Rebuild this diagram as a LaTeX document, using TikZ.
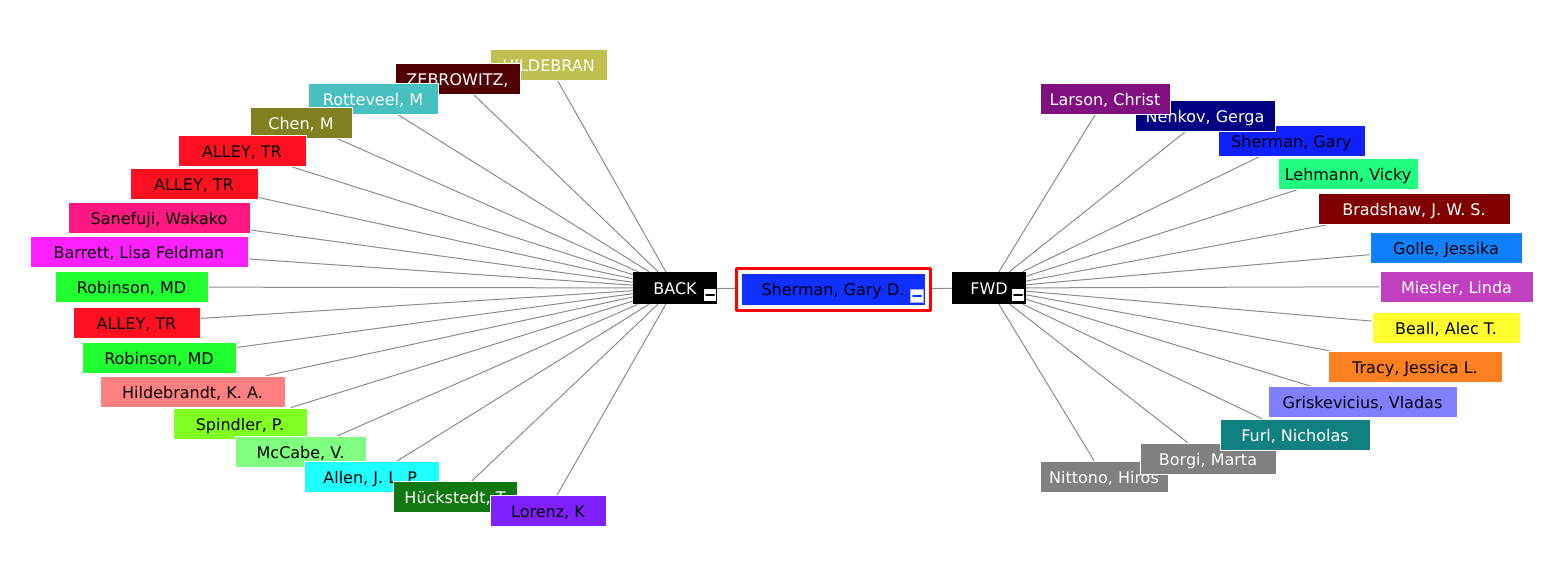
\documentclass[tikz,border=0pt]{standalone}
\usepackage{fontspec}
\setmainfont{DejaVu Sans}
\usetikzlibrary{backgrounds}
\definecolor{linkgray}{HTML}{8C8C8C}
\definecolor{cCore}{HTML}{1030FF}
\begin{document}
\begin{tikzpicture}[x=1pt,y=-1pt,font=\fontsize{16}{16}\selectfont,line join=round,line cap=round,
    person/.style={rectangle,draw=white,line width=0.6pt,inner sep=0pt,minimum height=31pt,text height=13pt,text depth=0pt,text=black},
    hub/.style={rectangle,fill=black,text=white,inner sep=0pt,minimum height=32pt,text height=13pt,text depth=0pt},
    minusbox/.style={rectangle,fill=white,draw=black,line width=0.8pt,minimum size=13pt,inner sep=0pt,
        path picture={\draw[line width=2pt,#1] ([xshift=-4pt]path picture bounding box.center) -- ([xshift=4pt]path picture bounding box.center);}},
    minusbox/.default=black,
    link/.style={draw=linkgray,line width=1pt}]
    \useasboundingbox (0,0) rectangle (1560,574);
    % centre
    \node[hub,minimum width=84pt] (back) at (675,288) {BACK};
    \node[rectangle,fill=cCore,draw=white,line width=1pt,minimum width=184pt,minimum height=32pt,outer sep=5pt,text height=13pt,text depth=0pt] (core) at (833,289) {Sherman, Gary D.};
    \draw[red,line width=3pt] (core.north west) rectangle (core.south east);
    \node[hub,minimum width=74pt] (fwd) at (989,288) {FWD};
    \node[minusbox] (backminus) at (710,295) {};
    \node[minusbox=cCore,draw=cCore!40!white] (coreminus) at (917,296) {};
    \node[minusbox] (fwdminus) at (1018,295) {};
    % back
    \node[person,fill={rgb,255:red,192;green,192;blue,80},text=white,minimum width=117pt] (b1) at (548.5,64.5) {HILDEBRAN};
    \node[person,fill={rgb,255:red,80;green,0;blue,0},text=white,minimum width=125pt] (b2) at (457.5,79) {ZEBROWITZ,};
    \node[person,fill={rgb,255:red,72;green,192;blue,192},text=white,minimum width=130pt] (b3) at (373,99) {Rotteveel, M};
    \node[person,fill={rgb,255:red,128;green,128;blue,32},text=white,minimum width=102pt] (b4) at (301,122.5) {Chen, M};
    \node[person,fill={rgb,255:red,255;green,16;blue,32},minimum width=128pt] (b5) at (242,151) {ALLEY, TR};
    \node[person,fill={rgb,255:red,255;green,16;blue,32},minimum width=128pt] (b6) at (194,183.5) {ALLEY, TR};
    \node[person,fill={rgb,255:red,255;green,24;blue,128},minimum width=182pt] (b7) at (159,217.5) {Sanefuji, Wakako};
    \node[person,fill={rgb,255:red,255;green,32;blue,255},minimum width=218pt] (b8) at (139,251.5) {Barrett, Lisa Feldman};
    \node[person,fill={rgb,255:red,32;green,255;blue,48},minimum width=153pt] (b9) at (131.5,287) {Robinson, MD};
    \node[person,fill={rgb,255:red,255;green,16;blue,32},minimum width=127pt] (b10) at (136.5,322.5) {ALLEY, TR};
    \node[person,fill={rgb,255:red,32;green,255;blue,48},minimum width=154pt] (b11) at (159,358) {Robinson, MD};
    \node[person,fill={rgb,255:red,255;green,128;blue,128},minimum width=185pt] (b12) at (192.5,391.5) {Hildebrandt, K. A.};
    \node[person,fill={rgb,255:red,128;green,255;blue,32},minimum width=134pt] (b13) at (240,423.5) {Spindler, P.};
    \node[person,fill={rgb,255:red,128;green,255;blue,128},minimum width=131pt] (b14) at (300.5,452) {McCabe, V.};
    \node[person,fill={rgb,255:red,32;green,255;blue,255},minimum width=135pt] (b15) at (371.5,477) {Allen, J. L. P.};
    \node[person,fill={rgb,255:red,16;green,120;blue,16},text=white,minimum width=124pt] (b16) at (455,497) {Hückstedt, T};
    \node[person,fill={rgb,255:red,128;green,32;blue,255},minimum width=116pt] (b17) at (548,511) {Lorenz, K};
    % fwd
    \node[person,fill={rgb,255:red,128;green,128;blue,128},text=white,minimum width=128pt] (f13) at (1104,477) {Nittono, Hiros};
    \node[person,fill={rgb,255:red,128;green,128;blue,128},text=white,minimum width=136pt] (f12) at (1208,458.5) {Borgi, Marta};
    \node[person,fill={rgb,255:red,16;green,128;blue,128},text=white,minimum width=150pt] (f11) at (1295,434.5) {Furl, Nicholas};
    \node[person,fill={rgb,255:red,128;green,128;blue,255},minimum width=189pt] (f10) at (1362.5,402) {Griskevicius, Vladas};
    \node[person,fill={rgb,255:red,255;green,128;blue,32},minimum width=174pt] (f9) at (1415,366.5) {Tracy, Jessica L.};
    \node[person,fill={rgb,255:red,255;green,255;blue,48},minimum width=148pt] (f8) at (1446,327.5) {Beall, Alec T.};
    \node[person,fill={rgb,255:red,192;green,64;blue,192},text=white,minimum width=153pt] (f7) at (1456.5,286.5) {Miesler, Linda};
    \node[person,fill={rgb,255:red,16;green,128;blue,255},minimum width=152pt] (f6) at (1446,248) {Golle, Jessika};
    \node[person,fill={rgb,255:red,128;green,0;blue,0},text=white,minimum width=192pt] (f5) at (1414,208.5) {Bradshaw, J. W. S.};
    \node[person,fill={rgb,255:red,32;green,255;blue,128},minimum width=140pt] (f4) at (1348,173.5) {Lehmann, Vicky};
    \node[person,fill={rgb,255:red,16;green,32;blue,255},minimum width=147pt] (f3) at (1291.5,141) {Sherman, Gary};
    \node[person,fill={rgb,255:red,0;green,0;blue,128},text=white,minimum width=140pt] (f2) at (1205,116) {Nenkov, Gerga};
    \node[person,fill={rgb,255:red,128;green,16;blue,128},text=white,minimum width=130pt] (f1) at (1105,98.5) {Larson, Christ};
    % links
    \begin{scope}[on background layer]
        \draw[link] (back) -- (core) -- (fwd);
        \foreach \i in {1,...,17} \draw[link] (back) -- (b\i);
        \foreach \i in {1,...,13} \draw[link] (fwd) -- (f\i);
    \end{scope}
\end{tikzpicture}
\end{document}
